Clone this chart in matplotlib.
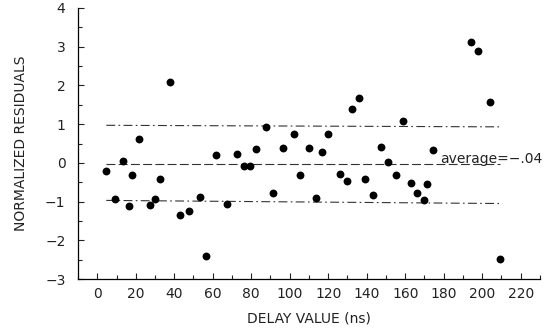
import numpy as np
import matplotlib
matplotlib.use("Agg")
import matplotlib.pyplot as plt
from matplotlib.ticker import MultipleLocator

# delay values (ns) and normalized residuals
delay = [4.8, 9.4, 13.3, 16.3, 18.2, 21.8, 27.4, 30.1, 32.7, 37.8,
         43.0, 47.6, 53.3, 56.6, 61.6, 67.4, 72.4, 76.0, 79.3, 82.6,
         87.6, 91.1, 96.3, 102.0, 105.3, 109.8, 113.4, 117.0, 120.0, 126.2,
         129.7, 132.6, 136.1, 139.2, 143.0, 147.4, 150.8, 155.2, 158.6, 163.0,
         166.1, 169.7, 171.4, 174.2, 194.3, 197.6, 204.2, 209.4]
resid = [-0.20, -0.93, 0.06, -1.12, -0.32, 0.62, -1.09, -0.93, -0.41, 2.09,
         -1.35, -1.24, -0.89, -2.41, 0.21, -1.06, 0.23, -0.09, -0.07, 0.35,
         0.92, -0.78, 0.38, 0.74, -0.31, 0.38, -0.90, 0.27, 0.74, -0.30,
         -0.46, 1.40, 1.67, -0.41, -0.82, 0.41, 0.02, -0.31, 1.07, -0.53,
         -0.78, -0.96, -0.55, 0.34, 3.12, 2.89, 1.58, -2.48]

line_x = [4.7, 209.0]
upper = [0.97, 0.93]
middle = [-0.03, -0.03]
lower = [-0.97, -1.05]
avg_label = "average=\u2212.04"

plt.rcParams['font.family'] = ['DejaVu Sans']
fig = plt.figure(figsize=(5.54, 3.30), dpi=100)
ax = fig.add_axes([0.1408, 0.1545, 0.9747 - 0.1408, 0.9758 - 0.1545])

ax.scatter(delay, resid, s=32, color='black', zorder=3, linewidths=0)
ax.plot(line_x, upper, color='#333333', lw=0.8, dashes=[8, 3, 1.5, 3])
ax.plot(line_x, middle, color='#333333', lw=0.8, dashes=[8, 3])
ax.plot(line_x, lower, color='#333333', lw=0.8, dashes=[8, 3, 1.5, 3])
ax.text(178, 0.0, avg_label, fontsize=10, va='baseline', ha='left', color='#222222')

ax.set_xlim(-10, 230)
ax.set_ylim(-3, 4)
ax.xaxis.set_major_locator(MultipleLocator(20))
ax.xaxis.set_minor_locator(MultipleLocator(10))
ax.yaxis.set_major_locator(MultipleLocator(1))
ax.yaxis.set_minor_locator(MultipleLocator(0.5))
ax.tick_params(which='both', direction='in', top=False, right=False, labelsize=10, colors='#222222')
ax.tick_params(which='major', length=4, width=0.8)
ax.tick_params(which='minor', length=3, width=0.8)
ax.tick_params(axis='y', which='major', pad=9)
ax.tick_params(axis='x', which='major', pad=6)
ax.set_xticks(range(0, 221, 20))

for side in ('top', 'right'):
    ax.spines[side].set_visible(False)
for side in ('left', 'bottom'):
    ax.spines[side].set_linewidth(0.9)

ax.set_xlabel('DELAY VALUE (ns)', fontsize=10, color='#222222', labelpad=7)
ax.set_ylabel('NORMALIZED RESIDUALS', fontsize=10, color='#222222', labelpad=12)

fig.savefig('out.png', dpi=100)
